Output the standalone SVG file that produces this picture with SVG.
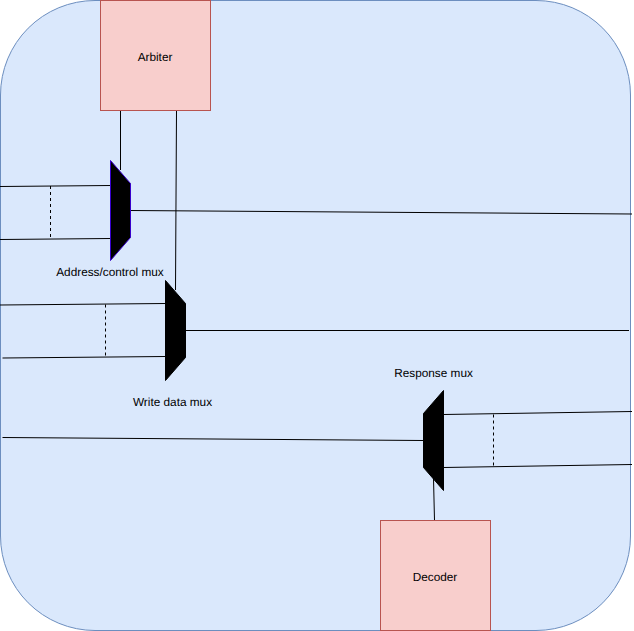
<svg xmlns="http://www.w3.org/2000/svg" width="634" height="631" viewBox="0 0 634 631">
<style>
.l{fill:none;stroke:#000;stroke-width:1}
.d{stroke-dasharray:3 3}
.b{fill:#f8cecc;stroke:#b85450;stroke-width:1}
.m{fill:#000;stroke:#000;stroke-width:1}
text{font-family:"Liberation Sans",Arial,Helvetica,sans-serif;font-size:11.8px;fill:#000;text-anchor:middle;text-rendering:geometricPrecision}
</style>
<rect id="bus" x="0.5" y="0.5" width="630" height="630" rx="94.5" ry="94.5" fill="#dae8fc" stroke="#6c8ebf"/>
<g id="connectors">
<path class="l" d="M120.500 110.500V170"/>
<path class="l" d="M176.500 110.500L175.500 290"/>
<path class="l" d="M0 186.500L110.500 185.500"/>
<path class="l" d="M0 239.500L110.500 238.500"/>
<path class="l d" d="M50.500 186V239.500"/>
<path class="l" d="M130.500 210.500L632 214"/>
<path class="l" d="M0 305L165.500 303.500"/>
<path class="l" d="M2.500 358L165.500 356.500"/>
<path class="l d" d="M105.500 304.500V358"/>
<path class="l" d="M185.500 330.500H629"/>
<path class="l" d="M2.500 437.500L423.500 440.500"/>
<path class="l" d="M443.500 414.500L632 411.500"/>
<path class="l" d="M443.500 467.500L632 464.500"/>
<path class="l d" d="M493.500 414.500V467.500"/>
<path class="l" d="M433.500 478L434.500 520.500"/>
</g>
<g id="arbiter"><rect class="b" x="100.500" y="0.500" width="110" height="110"/><text x="155" y="61">Arbiter</text></g>
<g id="addr-mux"><path d="M110.500 160.500L130.500 183.500V237.500L110.500 260.500Z" fill="#000" stroke="#3700cc"/><text x="110" y="276">Address/control mux</text></g>
<g id="write-mux"><path class="m" d="M165.500 280.500L185.500 303.500V357.500L165.500 380.500Z"/><text x="172.500" y="406">Write data mux</text></g>
<g id="resp-mux"><path class="m" d="M443.500 390.500L423.500 413.500V467.500L443.500 490.500Z"/><text x="433.500" y="377">Response mux</text></g>
<g id="decoder"><rect class="b" x="380.500" y="520.500" width="110" height="110"/><text x="435" y="581">Decoder</text></g>
</svg>
